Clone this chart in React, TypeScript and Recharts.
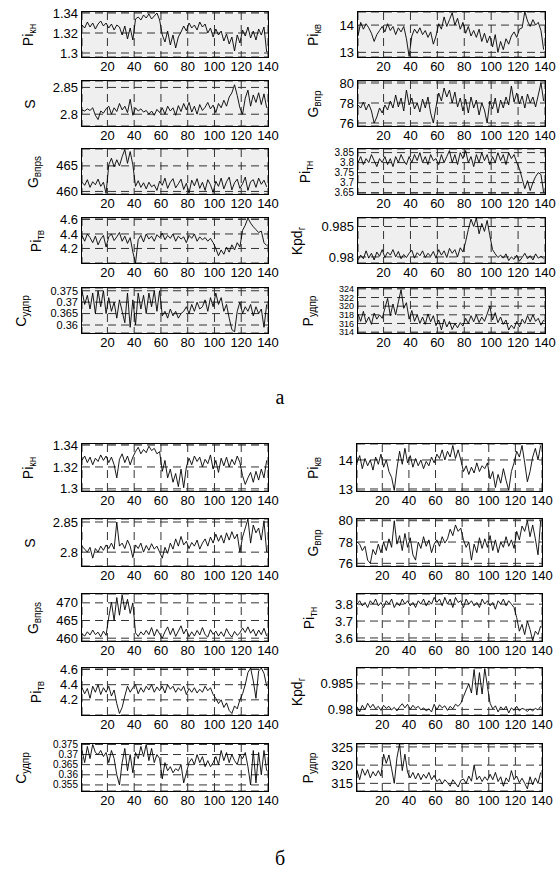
import React from "react";
import { LineChart, Line, XAxis, YAxis, CartesianGrid } from "recharts";

// sample number axis (every second sample of 1..140)
const xTicks = [20, 40, 60, 80, 100, 120, 140];
const sampleStep = 2;

// ---- group а ----
const piKnA = [1.328, 1.325, 1.331, 1.326, 1.33, 1.324, 1.329, 1.332, 1.327, 1.33, 1.325, 1.329, 1.323, 1.328, 1.326, 1.318, 1.327, 1.314, 1.325, 1.313, 1.334, 1.336, 1.333, 1.338, 1.335, 1.339, 1.334, 1.337, 1.34, 1.333, 1.318, 1.311, 1.322, 1.308, 1.318, 1.305, 1.316, 1.321, 1.327, 1.322, 1.33, 1.325, 1.328, 1.323, 1.331, 1.326, 1.329, 1.32, 1.325, 1.316, 1.324, 1.318, 1.322, 1.312, 1.319, 1.309, 1.316, 1.302, 1.318, 1.31, 1.323, 1.317, 1.326, 1.315, 1.322, 1.313, 1.324, 1.318, 1.326, 1.301];
const sA = [2.808, 2.806, 2.81, 2.807, 2.812, 2.798, 2.79, 2.806, 2.802, 2.81, 2.815, 2.8, 2.812, 2.805, 2.82, 2.808, 2.815, 2.803, 2.828, 2.798, 2.812, 2.806, 2.81, 2.804, 2.807, 2.8, 2.806, 2.798, 2.809, 2.803, 2.812, 2.8, 2.815, 2.806, 2.812, 2.798, 2.816, 2.805, 2.82, 2.808, 2.822, 2.804, 2.815, 2.8, 2.818, 2.807, 2.813, 2.822, 2.81, 2.817, 2.803, 2.82, 2.812, 2.826, 2.815, 2.832, 2.84, 2.855, 2.835, 2.812, 2.8, 2.83, 2.845, 2.815, 2.836, 2.822, 2.84, 2.818, 2.838, 2.812];
const gVprsA = [461.8, 461.2, 462.3, 460.8, 461.9, 461.3, 462.4, 461.0, 461.8, 459.6, 465.2, 466.5, 464.8, 466.2, 465.0, 466.8, 468.2, 465.5, 467.8, 465.2, 461.0, 462.1, 460.8, 461.7, 460.5, 461.8, 460.9, 461.3, 460.2, 462.0, 461.2, 462.6, 460.6, 461.8, 462.5, 460.7, 461.5, 462.4, 460.4, 461.6, 459.7, 462.2, 461.1, 462.5, 460.6, 461.8, 460.2, 462.3, 461.3, 459.8, 462.0, 461.0, 462.6, 460.5, 461.9, 462.8, 460.3, 461.7, 462.4, 460.6, 461.5, 462.8, 460.2, 461.9, 462.3, 460.8, 462.6, 461.4, 462.2, 460.9];
const piTvA = [4.38, 4.3, 4.4, 4.35, 4.28, 4.37, 4.25, 4.33, 4.38, 4.22, 4.36, 4.4, 4.31, 4.36, 4.42, 4.3, 4.37, 4.27, 4.35, 4.15, 4.0, 4.32, 4.38, 4.29, 4.4, 4.33, 4.37, 4.3, 4.39, 4.35, 4.41, 4.32, 4.38, 4.34, 4.4, 4.3, 4.37, 4.33, 4.36, 4.28, 4.38, 4.34, 4.4, 4.3, 4.36, 4.32, 4.35, 4.3, 4.34, 4.28, 4.2, 4.1, 4.18, 4.12, 4.22, 4.15, 4.25, 4.18, 4.28, 4.22, 4.45, 4.52, 4.62, 4.55, 4.5, 4.46, 4.42, 4.44, 4.28, 4.24];
const cUdprA = [0.375, 0.369, 0.373, 0.367, 0.374, 0.365, 0.375, 0.368, 0.375, 0.365, 0.372, 0.366, 0.37, 0.363, 0.371, 0.366, 0.361, 0.374, 0.359, 0.371, 0.36, 0.374, 0.367, 0.373, 0.365, 0.374, 0.368, 0.375, 0.366, 0.375, 0.364, 0.366, 0.363, 0.367, 0.364, 0.366, 0.363, 0.365, 0.366, 0.368, 0.365, 0.369, 0.366, 0.37, 0.367, 0.368, 0.371, 0.366, 0.372, 0.368, 0.374, 0.369, 0.372, 0.366, 0.369, 0.363, 0.358, 0.357, 0.366, 0.37, 0.365, 0.368, 0.366, 0.369, 0.364, 0.368, 0.365, 0.367, 0.359, 0.369];
const piKvA = [13.6, 14.1, 13.85, 14.05, 13.9, 13.7, 13.4, 13.65, 13.8, 13.95, 13.75, 14.05, 13.8, 13.95, 13.65, 13.9, 13.75, 13.95, 13.5, 12.85, 13.6, 13.85, 13.7, 13.9, 13.65, 13.8, 13.55, 13.75, 13.3, 13.6, 14.05, 13.85, 14.3, 13.95, 14.2, 14.45, 14.0, 14.25, 13.85, 14.1, 13.7, 13.95, 13.6, 13.8, 13.55, 13.85, 13.4, 13.7, 13.35, 13.6, 13.2, 13.65, 13.0, 13.4, 13.1, 13.5, 13.3, 13.6, 13.75, 13.55, 13.85, 13.9, 14.5, 14.15, 13.95, 14.2, 14.0, 14.1, 13.8, 13.1];
const gVprA = [77.8, 77.5, 78.1, 77.3, 77.9, 77.2, 76.0, 76.6, 77.5, 77.0, 77.8, 77.3, 78.2, 77.5, 78.8, 77.6, 78.5, 77.2, 79.3, 77.8, 78.5, 77.4, 78.0, 77.1, 78.4, 77.5, 78.6, 77.0, 76.0, 77.6, 79.0, 78.2, 79.5, 78.6, 79.3, 78.0, 79.1, 77.6, 78.5, 77.2, 78.4, 77.0, 78.6, 77.5, 78.3, 76.8, 78.0, 77.3, 76.0, 78.2, 77.4, 78.5, 77.0, 78.3, 77.5, 78.6, 77.8, 79.7, 78.1, 79.0, 77.9, 78.7, 77.5, 78.9, 78.0, 78.6, 77.6, 78.8, 80.0, 78.2];
const piTnA = [3.8, 3.83, 3.79, 3.82, 3.8, 3.84, 3.81, 3.78, 3.82, 3.8, 3.83, 3.79, 3.82, 3.78, 3.83, 3.8, 3.84, 3.81, 3.79, 3.83, 3.8, 3.84, 3.81, 3.85, 3.8, 3.83, 3.79, 3.84, 3.81, 3.82, 3.79, 3.84, 3.8, 3.83, 3.86, 3.8, 3.84, 3.79, 3.85, 3.82, 3.86, 3.8, 3.83, 3.78, 3.84, 3.8, 3.85, 3.81, 3.84, 3.79, 3.83, 3.8, 3.85, 3.81, 3.84, 3.79, 3.85, 3.82, 3.84, 3.8, 3.77, 3.72, 3.67, 3.71, 3.66, 3.7, 3.73, 3.75, 3.74, 3.65];
const kpdA = [0.9795, 0.9803, 0.9797, 0.981, 0.9798, 0.9806, 0.9795, 0.9808, 0.9801, 0.9812, 0.9799, 0.9808, 0.9803, 0.9812, 0.98, 0.9809, 0.9797, 0.9804, 0.9799, 0.9806, 0.9811, 0.9798, 0.9807, 0.9802, 0.981, 0.9799, 0.9806, 0.9801, 0.9809, 0.9798, 0.9812, 0.9803, 0.981, 0.9799, 0.9814, 0.9806, 0.9812, 0.98, 0.9815, 0.9808, 0.9825, 0.9845, 0.9862, 0.985, 0.9864, 0.9838, 0.9855, 0.9842, 0.986, 0.9835, 0.9812, 0.9805, 0.9799, 0.9803, 0.9798, 0.9805, 0.9794, 0.98, 0.9796, 0.9803, 0.9793, 0.9799, 0.9806, 0.9797, 0.9802, 0.9795, 0.9805, 0.9798, 0.9801, 0.9797];
const pUdprA = [318.2, 316.5, 318.8, 316.2, 317.5, 315.8, 318.4, 317.0, 318.0, 317.2, 319.5, 321.8, 317.8, 320.5, 318.0, 321.0, 323.8, 319.5, 320.8, 317.0, 319.0, 316.5, 318.0, 316.0, 317.5, 315.8, 318.2, 316.4, 317.8, 315.5, 316.8, 314.5, 317.0, 315.2, 316.5, 314.6, 316.0, 315.0, 316.2, 315.4, 317.2, 316.0, 317.8, 316.4, 318.0, 316.2, 317.5, 316.5, 318.2, 320.0, 316.8, 318.5, 316.2, 317.5, 315.8, 316.8, 314.5, 315.6, 314.8, 316.5, 315.2, 317.0, 316.0, 317.8, 316.4, 318.0, 316.5, 317.2, 315.6, 316.8];

// ---- group б ----
const piKnB = [1.326, 1.33, 1.324, 1.329, 1.322, 1.328, 1.325, 1.331, 1.326, 1.33, 1.324, 1.329, 1.322, 1.31, 1.327, 1.332, 1.324, 1.33, 1.322, 1.329, 1.334, 1.338, 1.332, 1.336, 1.333, 1.339, 1.335, 1.337, 1.332, 1.334, 1.316, 1.326, 1.31, 1.318, 1.306, 1.314, 1.302, 1.318, 1.301, 1.32, 1.328, 1.322, 1.33, 1.325, 1.329, 1.32, 1.327, 1.323, 1.331, 1.318, 1.326, 1.315, 1.328, 1.321, 1.329, 1.32, 1.327, 1.322, 1.33, 1.324, 1.312, 1.304, 1.31, 1.315, 1.306, 1.316, 1.308, 1.318, 1.31, 1.326];
const sB = [2.81, 2.805, 2.8, 2.808, 2.79, 2.806, 2.8, 2.81, 2.803, 2.812, 2.806, 2.815, 2.805, 2.85, 2.81, 2.815, 2.806, 2.82, 2.81, 2.791, 2.812, 2.806, 2.815, 2.8, 2.811, 2.803, 2.814, 2.805, 2.81, 2.8, 2.79, 2.808, 2.798, 2.815, 2.805, 2.822, 2.81, 2.826, 2.812, 2.818, 2.806, 2.816, 2.81, 2.82, 2.805, 2.815, 2.822, 2.81, 2.825, 2.815, 2.83, 2.818, 2.828, 2.815, 2.832, 2.82, 2.834, 2.822, 2.83, 2.8, 2.825, 2.84, 2.855, 2.815, 2.845, 2.832, 2.84, 2.82, 2.852, 2.8];
const gVprsB = [461.2, 460.6, 461.8, 460.9, 462.3, 461.0, 461.7, 460.4, 462.0, 460.8, 466.0, 470.2, 465.0, 471.5, 466.5, 472.2, 468.0, 471.0, 467.0, 470.0, 461.5, 460.5, 461.8, 460.9, 462.2, 461.0, 463.0, 460.6, 462.5, 461.2, 460.0, 461.8, 463.2, 461.0, 462.8, 460.5, 462.0, 463.5, 461.2, 462.6, 460.4, 461.8, 460.6, 462.2, 460.9, 463.0, 461.0, 460.3, 462.4, 461.1, 462.0, 460.6, 461.8, 460.5, 462.7, 461.2, 460.3, 461.9, 460.8, 461.5, 462.9, 461.6, 463.2, 461.4, 462.5, 460.6, 462.3, 461.0, 462.8, 460.6];
const piTvB = [4.36, 4.28, 4.35, 4.22, 4.38, 4.3, 4.4, 4.27, 4.36, 4.3, 4.38, 4.25, 4.33, 4.15, 4.02, 4.1, 4.25, 4.38, 4.3, 4.36, 4.4, 4.28, 4.36, 4.3, 4.38, 4.33, 4.4, 4.3, 4.37, 4.32, 4.38, 4.29, 4.4, 4.34, 4.38, 4.3, 4.36, 4.32, 4.38, 4.27, 4.35, 4.3, 4.36, 4.29, 4.34, 4.3, 4.38, 4.32, 4.36, 4.27, 4.22, 4.15, 4.2, 4.1, 4.16, 4.06, 4.02, 4.12, 4.08, 4.2, 4.28, 4.4, 4.56, 4.62, 4.45, 4.22, 4.58, 4.62, 4.55, 4.38];
const cUdprB = [0.372, 0.366, 0.374, 0.368, 0.375, 0.371, 0.37, 0.372, 0.369, 0.371, 0.366, 0.372, 0.368, 0.36, 0.355, 0.366, 0.373, 0.362, 0.37, 0.361, 0.371, 0.368, 0.374, 0.369, 0.375, 0.367, 0.373, 0.366, 0.37, 0.368, 0.358, 0.366, 0.362, 0.364, 0.361, 0.363, 0.362, 0.365, 0.356, 0.361, 0.366, 0.368, 0.365, 0.37, 0.366, 0.369, 0.364, 0.367, 0.364, 0.366, 0.369, 0.365, 0.372, 0.367, 0.371, 0.366, 0.37, 0.367, 0.365, 0.37, 0.368, 0.371, 0.364, 0.355, 0.372, 0.356, 0.371, 0.36, 0.372, 0.362];
const piKvB = [13.9, 14.15, 13.7, 14.05, 13.8, 14.0, 13.65, 14.1, 13.85, 14.2, 13.75, 14.0, 13.6, 13.4, 12.95, 13.7, 14.3, 13.85, 14.4, 13.9, 14.15, 13.75, 14.05, 13.8, 14.0, 13.7, 13.95, 13.8, 14.1, 13.9, 14.2, 14.05, 14.35, 14.0, 14.3, 14.1, 14.5, 14.05, 14.35, 14.0, 13.6, 13.8, 13.5, 13.75, 13.55, 13.9, 13.6, 13.8, 13.7, 13.9, 13.35, 13.6, 13.05, 13.5, 13.2, 13.7, 13.3, 12.95, 13.6, 13.9, 14.3, 14.1, 14.5, 13.9, 13.25, 13.6, 14.1, 14.4, 14.0, 14.5];
const gVprB = [78.0, 77.8, 77.2, 77.6, 76.3, 76.0, 77.3, 76.8, 77.8, 77.0, 78.0, 77.2, 78.3, 77.5, 80.0, 77.8, 78.6, 77.2, 78.8, 77.5, 78.4, 76.8, 76.3, 78.0, 77.4, 78.5, 77.6, 78.2, 77.0, 77.8, 78.2, 77.6, 78.5, 77.9, 78.3, 79.2, 78.6, 79.6, 79.0, 79.3, 78.2, 77.5, 78.0, 76.3, 77.8, 77.0, 78.4, 77.4, 78.3, 77.5, 78.6, 77.2, 78.2, 77.0, 78.0, 77.5, 78.5, 77.6, 78.2, 77.4, 79.0, 78.2, 79.5, 79.0, 80.0, 78.5, 79.6, 78.3, 76.8, 80.0];
const piTnB = [3.8, 3.82, 3.79, 3.81, 3.78, 3.82, 3.8, 3.83, 3.79, 3.81, 3.78, 3.82, 3.8, 3.83, 3.78, 3.81, 3.79, 3.83, 3.8, 3.82, 3.79, 3.81, 3.78, 3.82, 3.8, 3.83, 3.79, 3.82, 3.8, 3.84, 3.81, 3.83, 3.79, 3.84, 3.8, 3.83, 3.78, 3.84, 3.81, 3.82, 3.78, 3.83, 3.8, 3.82, 3.79, 3.81, 3.78, 3.83, 3.8, 3.82, 3.79, 3.81, 3.77, 3.82, 3.8, 3.83, 3.79, 3.82, 3.8, 3.78, 3.72, 3.64, 3.68, 3.62, 3.7, 3.65, 3.585, 3.64, 3.62, 3.67];
const kpdB = [0.9805, 0.9795, 0.9808, 0.9799, 0.9812, 0.9803, 0.981, 0.9801, 0.9806, 0.9798, 0.9808, 0.9802, 0.9806, 0.9799, 0.9804, 0.9797, 0.9805, 0.9811, 0.9803, 0.981, 0.98, 0.9808, 0.9802, 0.9806, 0.9799, 0.9803, 0.9797, 0.9801, 0.9795, 0.981, 0.9799, 0.9809, 0.9803, 0.9807, 0.9798, 0.9806, 0.9801, 0.981, 0.9806, 0.9812, 0.9825, 0.9838, 0.985, 0.9832, 0.9878, 0.9828, 0.9872, 0.983, 0.988, 0.9845, 0.9812, 0.9801, 0.9807, 0.9795, 0.9805, 0.9799, 0.9806, 0.9793, 0.9803, 0.9798, 0.9806, 0.9797, 0.9802, 0.98, 0.9796, 0.9801, 0.9797, 0.9802, 0.9799, 0.9806];
const pUdprB = [318.5, 316.0, 319.0, 317.2, 318.8, 316.5, 318.2, 317.0, 318.5, 317.0, 323.0, 320.5, 322.8, 319.0, 315.0, 322.0, 325.8, 318.5, 323.0, 318.0, 316.5, 318.0, 316.2, 317.8, 316.0, 317.5, 316.4, 318.0, 316.0, 317.2, 315.5, 316.2, 314.8, 316.0, 315.2, 314.2, 316.0, 315.0, 314.0, 315.8, 316.2, 315.0, 317.0, 315.6, 320.0, 316.0, 317.0, 315.5, 316.8, 315.8, 317.5, 316.0, 318.0, 315.5, 316.8, 314.2, 316.5, 315.4, 318.5, 316.0, 317.0, 315.2, 316.4, 315.0, 313.5, 316.8, 314.6, 316.5, 315.0, 318.0];

const axisFont = "'Liberation Sans', Arial, Helvetica, sans-serif";

type Box = { x: number; y: number; w: number; h: number };
type PanelDef = {
  name: string;
  sub: string;
  values: number[];
  domain: [number, number];
  ticks: number[];
  box: Box;
  labelX: number;
  shaded: boolean;
  tickFont?: number;
};

const topRows = [12, 81, 149, 218, 288];
const botRows = [444, 519, 594, 668, 744];

const panels: PanelDef[] = [
  // а, left column
  { name: "Pi", sub: "кн", values: piKnA, domain: [1.296, 1.341], ticks: [1.3, 1.32, 1.34], box: { x: 82, y: topRows[0], w: 186, h: 45 }, labelX: 29, shaded: true },
  { name: "S", sub: "", values: sA, domain: [2.778, 2.862], ticks: [2.8, 2.85], box: { x: 82, y: topRows[1], w: 186, h: 45 }, labelX: 30, shaded: true },
  { name: "G", sub: "впрs", values: gVprsA, domain: [459.5, 468.3], ticks: [460, 465], box: { x: 82, y: topRows[2], w: 186, h: 45 }, labelX: 34, shaded: true },
  { name: "Pi", sub: "тв", values: piTvA, domain: [4.0, 4.62], ticks: [4.2, 4.4, 4.6], box: { x: 82, y: topRows[3], w: 186, h: 45 }, labelX: 37, shaded: true },
  { name: "C", sub: "удпр", values: cUdprA, domain: [0.3565, 0.3762], ticks: [0.36, 0.365, 0.37, 0.375], box: { x: 82, y: topRows[4], w: 186, h: 45 }, labelX: 22, shaded: true, tickFont: 11 },
  // а, right column
  { name: "Pi", sub: "кв", values: piKvA, domain: [12.83, 14.48], ticks: [13, 14], box: { x: 358, y: topRows[0], w: 187, h: 45 }, labelX: 314, shaded: true },
  { name: "G", sub: "впр", values: gVprA, domain: [75.7, 80.2], ticks: [76, 78, 80], box: { x: 358, y: topRows[1], w: 187, h: 45 }, labelX: 314, shaded: true },
  { name: "Pi", sub: "тн", values: piTnA, domain: [3.643, 3.868], ticks: [3.65, 3.7, 3.75, 3.8, 3.85], box: { x: 358, y: topRows[2], w: 187, h: 45 }, labelX: 306, shaded: true, tickFont: 10 },
  { name: "Kpd", sub: "г", values: kpdA, domain: [0.979, 0.9864], ticks: [0.98, 0.985], box: { x: 358, y: topRows[3], w: 187, h: 45 }, labelX: 298, shaded: true },
  { name: "P", sub: "удпр", values: pUdprA, domain: [313.8, 324.2], ticks: [314, 316, 318, 320, 322, 324], box: { x: 358, y: topRows[4], w: 187, h: 45 }, labelX: 309, shaded: true, tickFont: 9 },
  // б, left column
  { name: "Pi", sub: "кн", values: piKnB, domain: [1.298, 1.341], ticks: [1.3, 1.32, 1.34], box: { x: 82, y: botRows[0], w: 186, h: 47 }, labelX: 29, shaded: false },
  { name: "S", sub: "", values: sB, domain: [2.777, 2.855], ticks: [2.8, 2.85], box: { x: 82, y: botRows[1], w: 186, h: 47 }, labelX: 30, shaded: false },
  { name: "G", sub: "впрs", values: gVprsB, domain: [459.2, 472.5], ticks: [460, 465, 470], box: { x: 82, y: botRows[2], w: 186, h: 47 }, labelX: 34, shaded: false },
  { name: "Pi", sub: "тв", values: piTvB, domain: [4.0, 4.62], ticks: [4.2, 4.4, 4.6], box: { x: 82, y: botRows[3], w: 186, h: 47 }, labelX: 37, shaded: false },
  { name: "C", sub: "удпр", values: cUdprB, domain: [0.352, 0.3752], ticks: [0.355, 0.36, 0.365, 0.37, 0.375], box: { x: 82, y: botRows[4], w: 186, h: 47 }, labelX: 22, shaded: false, tickFont: 10 },
  // б, right column
  { name: "Pi", sub: "кв", values: piKvB, domain: [12.93, 14.55], ticks: [13, 14], box: { x: 357, y: botRows[0], w: 185, h: 47 }, labelX: 314, shaded: false },
  { name: "G", sub: "впр", values: gVprB, domain: [75.75, 80.16], ticks: [76, 78, 80], box: { x: 357, y: botRows[1], w: 185, h: 47 }, labelX: 314, shaded: false },
  { name: "Pi", sub: "тн", values: piTnB, domain: [3.582, 3.86], ticks: [3.6, 3.7, 3.8], box: { x: 357, y: botRows[2], w: 185, h: 47 }, labelX: 310, shaded: false },
  { name: "Kpd", sub: "г", values: kpdB, domain: [0.9789, 0.9881], ticks: [0.98, 0.985], box: { x: 357, y: botRows[3], w: 185, h: 47 }, labelX: 298, shaded: false },
  { name: "P", sub: "удпр", values: pUdprB, domain: [312.9, 325.8], ticks: [315, 320, 325], box: { x: 357, y: botRows[4], w: 185, h: 47 }, labelX: 309, shaded: false },
];

const ML = 60; // room for y tick labels
const MT = 8;
const MR = 14;
const MB = 24; // room for x tick labels

function Panel({ p }: { p: PanelDef }) {
  const data = p.values.map((v, i) => ({ t: 1 + i * sampleStep, v }));
  const { box } = p;
  return (
    <>
      <div style={{ position: "absolute", left: box.x - ML, top: box.y - MT }}>
        <LineChart
          width={box.w + ML + MR}
          height={box.h + MT + MB}
          data={data}
          margin={{ top: MT, right: MR, bottom: 0, left: 0 }}
        >
          <CartesianGrid
            fill={p.shaded ? "#efefef" : "#ffffff"}
            fillOpacity={1}
            stroke="#333"
            strokeDasharray="8 5"
          />
          <XAxis
            dataKey="t"
            type="number"
            domain={[1, 140]}
            ticks={xTicks}
            height={MB}
            axisLine={false}
            tickLine={false}
            tickSize={3}
            tickMargin={2}
            interval={0}
            tick={{ fontSize: 13, fill: "#000", fontFamily: axisFont }}
          />
          <YAxis
            type="number"
            domain={p.domain}
            ticks={p.ticks}
            allowDataOverflow
            width={ML}
            axisLine={false}
            tickLine={false}
            tickSize={2}
            tickMargin={2}
            interval={0}
            tick={{ fontSize: p.tickFont ?? 13, fill: "#000", fontFamily: axisFont }}
          />
          <Line
            type="linear"
            dataKey="v"
            stroke="#000"
            strokeWidth={0.9}
            dot={false}
            isAnimationActive={false}
          />
        </LineChart>
      </div>
      <div
        style={{
          position: "absolute",
          left: box.x - 0.75,
          top: box.y - 0.75,
          width: box.w + 1.5,
          height: box.h + 1.5,
          border: "1.5px solid #000",
          boxSizing: "border-box",
          pointerEvents: "none",
        }}
      />
      <div
        style={{
          position: "absolute",
          left: p.labelX,
          top: box.y + box.h / 2,
          transform: "translate(-50%, -50%) rotate(-90deg)",
          whiteSpace: "nowrap",
          fontFamily: axisFont,
          fontSize: 14,
          lineHeight: "16px",
          color: "#000",
        }}
      >
        {p.name}
        {p.sub && <sub style={{ fontSize: 10, lineHeight: "10px" }}>{p.sub}</sub>}
      </div>
    </>
  );
}

export default function App() {
  return (
    <div
      style={{
        position: "absolute",
        left: 0,
        top: 0,
        width: 560,
        height: 869,
        background: "#fff",
        overflow: "hidden",
      }}
    >
      {panels.map((p, i) => (
        <Panel key={i} p={p} />
      ))}
      <div style={{ position: "absolute", left: 280, top: 397, transform: "translate(-50%, -50%)", fontFamily: "'Liberation Serif', 'Times New Roman', serif", fontSize: 20 }}>
        а
      </div>
      <div style={{ position: "absolute", left: 280, top: 858, transform: "translate(-50%, -50%)", fontFamily: "'Liberation Serif', 'Times New Roman', serif", fontSize: 20 }}>
        б
      </div>
    </div>
  );
}
